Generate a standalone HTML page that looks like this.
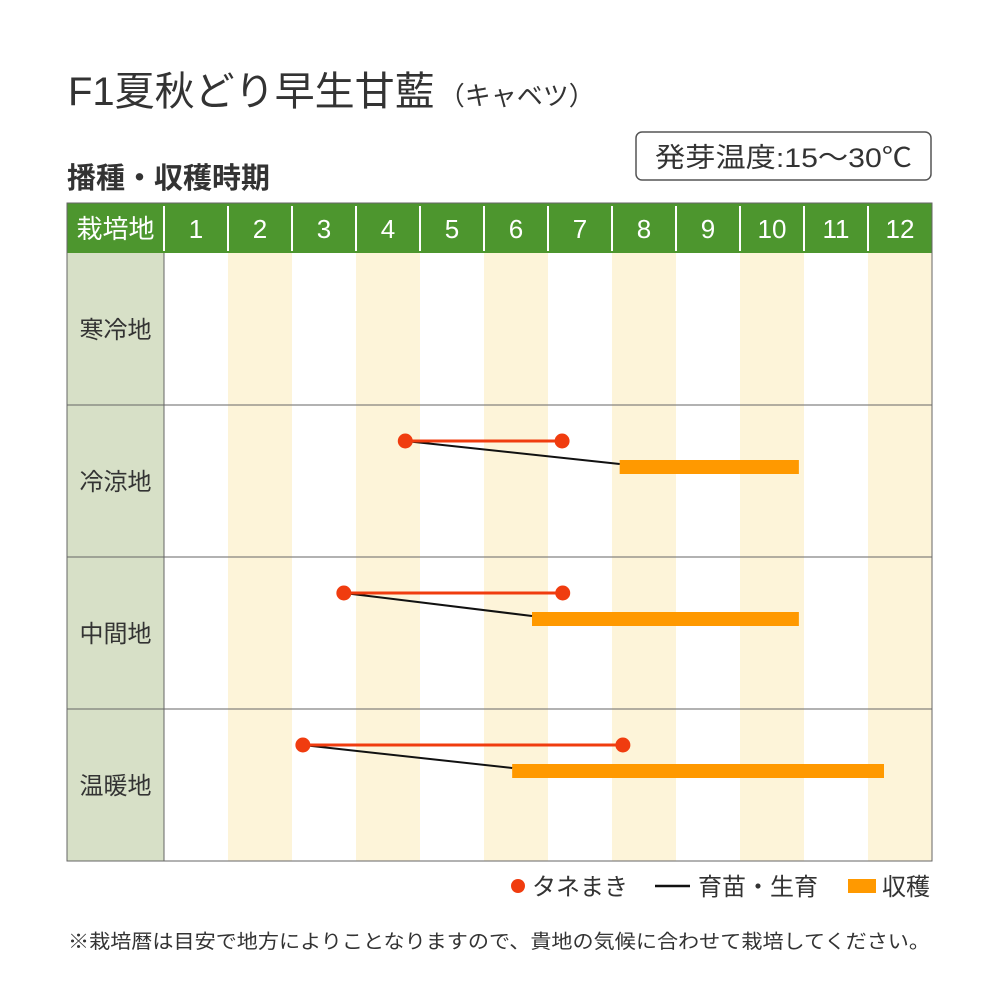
<!DOCTYPE html>
<html><head><meta charset="utf-8">
<style>
body{margin:0;background:#fff;}
svg text{font-family:"Liberation Sans","Noto Sans CJK JP",sans-serif;}
</style></head>
<body>
<svg id="chart" width="1000" height="1000" viewBox="0 0 1000 1000" xmlns="http://www.w3.org/2000/svg">
<rect width="1000" height="1000" fill="#fff"/>
<text x="68" y="105" font-size="40" fill="#333">F1夏秋どり早生甘藍<tspan font-size="26" dx="4">（キャベツ）</tspan></text>
<rect x="636" y="132" width="295" height="48" rx="6" fill="#fff" stroke="#555" stroke-width="1.5"/>
<text x="655" y="167" font-size="27" fill="#333" textLength="257" lengthAdjust="spacingAndGlyphs">発芽温度:15〜30℃</text>
<text x="67" y="188" font-size="29" font-weight="bold" fill="#333">播種・収穫時期</text>
<g id="grid"></g>
<g id="marks"></g>
<g>
<circle cx="518" cy="886" r="7" fill="#f03c0f"/>
<text x="532" y="895" font-size="24" fill="#333">タネまき</text>
<line x1="655" y1="886" x2="690" y2="886" stroke="#111" stroke-width="2.5"/>
<text x="698" y="895" font-size="24" fill="#333">育苗・生育</text>
<rect x="848" y="879" width="28" height="14" fill="#ff9900"/>
<text x="882" y="895" font-size="24" fill="#333">収穫</text>
</g>
<text x="68" y="948" font-size="19.5" fill="#333" textLength="862" lengthAdjust="spacingAndGlyphs">※栽培暦は目安で地方によりことなりますので、貴地の気候に合わせて栽培してください。</text>
</svg>
<script>
const months=["1","2","3","4","5","6","7","8","9","10","11","12"];
const regions=["寒冷地","冷涼地","中間地","温暖地"];
const sowStart=[null,3.77,2.81,2.17];
const sowEnd=[null,6.22,6.23,7.17];
const harvestStart=[null,7.12,5.75,5.44];
const harvestEnd=[null,9.92,9.92,11.25];
const NS="http://www.w3.org/2000/svg";
const X0=164,CW=64,Y0=253,RH=152,LX=67;
const xs=v=>X0+v*CW;
const ry=i=>Y0+i*RH;
function mk(t,a,p){const e=document.createElementNS(NS,t);for(const k in a)e.setAttribute(k,a[k]);p.appendChild(e);return e;}
const g=document.getElementById('grid'),m=document.getElementById('marks');
let e;
e=mk('rect',{x:LX,y:203,width:932-LX,height:50,fill:'#4d962e'},g);


e=mk('text',{x:(LX+X0)/2,y:238,'font-size':26,fill:'#fff','text-anchor':'middle'},g);e.textContent='栽培地';


mk('rect',{x:LX,y:Y0,width:X0-LX,height:RH*regions.length,fill:'#d7e0c7'},g);
months.forEach((mo,i)=>{
  if(i%2==1){e=mk('rect',{x:xs(i),y:Y0,width:CW,height:RH*regions.length,fill:'#fdf4d9'},g);
  
  }
  e=mk('text',{x:xs(i)+CW/2,y:238,'font-size':26,fill:'#fff','text-anchor':'middle'},g);e.textContent=mo;
  
  
  mk('line',{x1:xs(i),y1:206,x2:xs(i),y2:251,stroke:'#fff','stroke-width':2},g);
});
regions.forEach((r,i)=>{
  e=mk('text',{x:(LX+X0)/2,y:ry(i)+RH/2+9,'font-size':24,fill:'#333','text-anchor':'middle'},g);e.textContent=r;
  
  
  if(i>0)mk('line',{x1:LX,y1:ry(i),x2:932,y2:ry(i),stroke:'#666','stroke-width':1},g);
});
mk('line',{x1:X0,y1:Y0,x2:X0,y2:861,stroke:'#666','stroke-width':1},g);
mk('rect',{x:LX,y:203,width:932-LX,height:861-203,fill:'none',stroke:'#666','stroke-width':1},g);
regions.forEach((r,i)=>{
  if(sowStart[i]==null)return;
  const yS=ry(i)+36,yH=ry(i)+62;
  e=mk('rect',{x:xs(harvestStart[i]),y:yH-7,width:xs(harvestEnd[i])-xs(harvestStart[i]),height:14,fill:'#ff9900'},m);
  
  
  e=mk('line',{x1:xs(sowStart[i]),y1:yS,x2:xs(harvestStart[i]),y2:yH-3,stroke:'#111','stroke-width':2},m);
  
  
  e=mk('line',{x1:xs(sowStart[i]),y1:yS,x2:xs(sowEnd[i]),y2:yS,stroke:'#f03c0f','stroke-width':3},m);
  
  
  [sowStart[i],sowEnd[i]].forEach(v=>{
    e=mk('circle',{cx:xs(v),cy:yS,r:7.5,fill:'#f03c0f'},m);
    
    
  });
});
</script>
</body></html>
